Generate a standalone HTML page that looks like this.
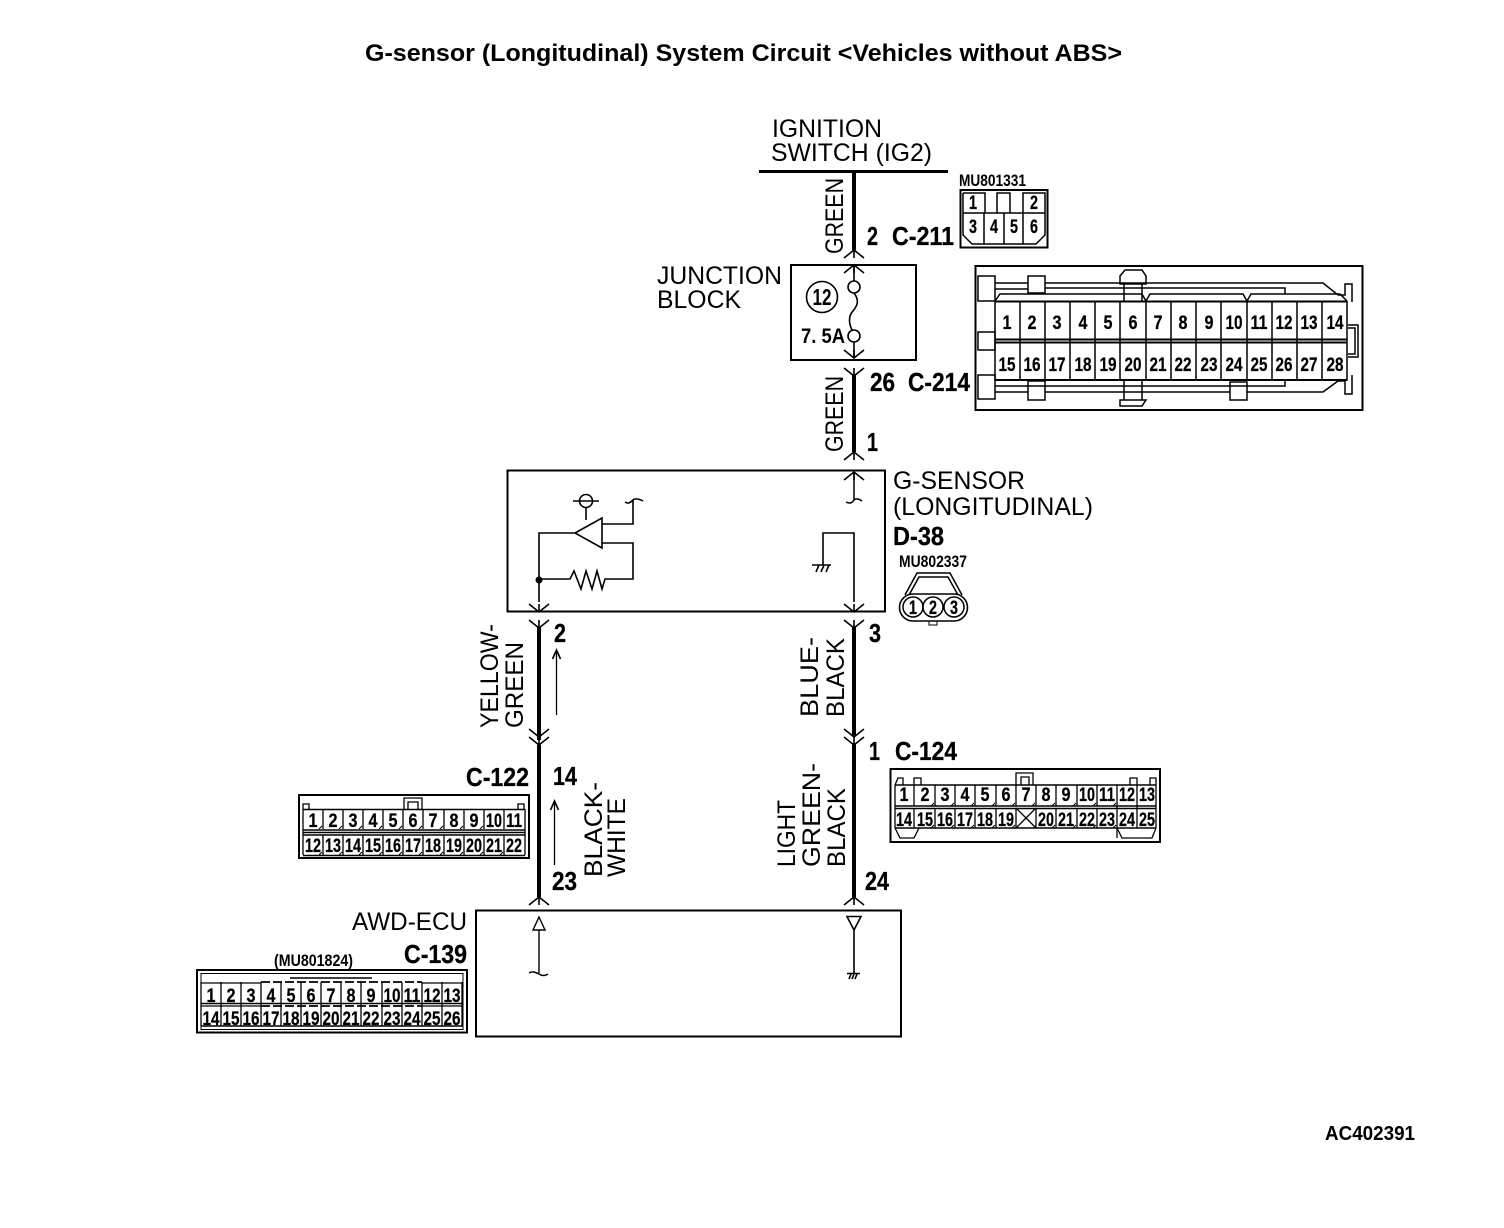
<!DOCTYPE html>
<html><head><meta charset="utf-8"><style>
html,body{margin:0;padding:0;background:#fff;width:1504px;height:1228px;overflow:hidden}
svg{display:block}
text{font-family:"Liberation Sans",sans-serif;fill:#000}
.r{font-size:25px}
.b{font-weight:bold;font-size:26px;stroke:#000;stroke-width:.3}
.mu{font-weight:bold;font-size:17px}
.m text{font-weight:bold;font-size:19px;text-anchor:middle;stroke:#000;stroke-width:.25}
</style></head><body>
<svg width="1504" height="1228" viewBox="0 0 1504 1228" xmlns="http://www.w3.org/2000/svg">
<defs>
<path id="u" d="M-10 8L0 0L10 8M0 0V8" fill="none" stroke="#000" stroke-width="1.6"/>
<path id="d" d="M-10 -8L0 0L10 -8M0 0V-8" fill="none" stroke="#000" stroke-width="1.6"/>
</defs>
<text x="365" y="61" font-weight="bold" font-size="24" textLength="757" lengthAdjust="spacingAndGlyphs">G-sensor (Longitudinal) System Circuit &lt;Vehicles without ABS&gt;</text>

<!-- top -->
<text class="r" x="772" y="137" textLength="110" lengthAdjust="spacingAndGlyphs">IGNITION</text>
<text class="r" x="771" y="161" textLength="161" lengthAdjust="spacingAndGlyphs">SWITCH (IG2)</text>
<path d="M759 171.5H948" stroke="#000" stroke-width="3"/>
<path d="M854 172V250M854 375V452M539 627V740M539 745V897M854 627V735M854 743V897" stroke="#000" stroke-width="4" fill="none"/>
<text class="r" transform="translate(843,254) rotate(-90)" textLength="76" lengthAdjust="spacingAndGlyphs">GREEN</text>
<text class="r" transform="translate(843,452) rotate(-90)" textLength="76" lengthAdjust="spacingAndGlyphs">GREEN</text>
<use href="#u" x="854" y="250"/><use href="#u" x="854" y="265"/>
<use href="#d" x="854" y="358"/><use href="#d" x="854" y="376"/>
<use href="#u" x="854" y="452"/><use href="#u" x="854" y="472"/>
<text class="b" x="867" y="245" textLength="11" lengthAdjust="spacingAndGlyphs">2</text>
<text class="b" x="892" y="245" textLength="62" lengthAdjust="spacingAndGlyphs">C-211</text>
<text class="b" x="870" y="391" textLength="25" lengthAdjust="spacingAndGlyphs">26</text>
<text class="b" x="908" y="391" textLength="62" lengthAdjust="spacingAndGlyphs">C-214</text>
<text class="b" x="867" y="451" textLength="11" lengthAdjust="spacingAndGlyphs">1</text>

<!-- junction block -->
<text class="r" x="657" y="284" textLength="125" lengthAdjust="spacingAndGlyphs">JUNCTION</text>
<text class="r" x="657" y="308" textLength="84" lengthAdjust="spacingAndGlyphs">BLOCK</text>
<rect x="791" y="265" width="125" height="95" fill="none" stroke="#000" stroke-width="2"/>
<circle cx="822" cy="297" r="15.5" fill="none" stroke="#000" stroke-width="1.6"/>
<text x="822" y="305" text-anchor="middle" font-weight="bold" font-size="23" textLength="19" lengthAdjust="spacingAndGlyphs">12</text>
<text x="801" y="343" font-weight="bold" font-size="21" textLength="44" lengthAdjust="spacingAndGlyphs">7. 5A</text>
<path d="M854 266V281M854 342V358" stroke="#000" stroke-width="1.6"/>
<circle cx="854" cy="287" r="6" fill="#fff" stroke="#000" stroke-width="1.6"/>
<circle cx="854" cy="336" r="6" fill="#fff" stroke="#000" stroke-width="1.6"/>
<path d="M854 293C860 301 857 306 853 311C848 316 849 324 852 330" fill="none" stroke="#000" stroke-width="1.6"/>

<!-- MU801331 -->
<text class="mu" x="959" y="186" textLength="67" lengthAdjust="spacingAndGlyphs">MU801331</text>
<rect x="960.5" y="190" width="87" height="57.5" fill="none" stroke="#000" stroke-width="2"/>
<path d="M963 213H1045M963 193H985V213M963 193V235L972 244H1036L1045 235V213M1023 213V193H1045V213M997 213V193H1010V213M984 213V244M1004 213V244M1023 213V244" fill="none" stroke="#000" stroke-width="1.5"/>
<g class="m">
<text x="973" y="209" textLength="8" lengthAdjust="spacingAndGlyphs">1</text><text x="1034" y="209" textLength="8" lengthAdjust="spacingAndGlyphs">2</text>
<text x="973" y="233" textLength="8" lengthAdjust="spacingAndGlyphs">3</text><text x="994" y="233" textLength="8" lengthAdjust="spacingAndGlyphs">4</text><text x="1014" y="233" textLength="8" lengthAdjust="spacingAndGlyphs">5</text><text x="1034" y="233" textLength="8" lengthAdjust="spacingAndGlyphs">6</text>
</g>

<!-- 28-pin -->
<rect x="975.5" y="266" width="387" height="144" fill="none" stroke="#000" stroke-width="2"/>
<path d="M978 276H995V301H978ZM978 332H995V350H978ZM978 375H995V399H978ZM1028 276H1045V293H1028ZM1028 381H1045V400H1028ZM1230 382H1247V400H1230Z" fill="#fff" stroke="#000" stroke-width="1.5"/>
<path d="M1124 284V302M1142 284V302M1124 380V400M1142 380V400M1120 276L1125 270H1142L1146 276V284H1120ZM1120 400V406H1142L1146 400Z" fill="none" stroke="#000" stroke-width="1.5"/>
<path d="M995 283H1028M1045 283H1323L1338 295M995 289H1028M1045 288H1285V294M1338 295H1345V284H1352V302M995 301L1000 294H1142L1146 301L1150 294H1243L1247 301L1251 294H1340L1347 301" fill="none" stroke="#000" stroke-width="1.5"/>
<path d="M995 386H1285V380M995 392H1028M1045 392H1230M1247 392H1323L1338 381H1345V394H1352V375M1348 325H1358V357H1348M1348 328H1355V354H1348" fill="none" stroke="#000" stroke-width="1.5"/>
<path d="M995 301.5H1347.5M995 339.5H1347.5M995 342.5H1347.5M995 380H1347.5" stroke="#000" stroke-width="2" fill="none"/>
<path d="M995 301V380M1020 301V380M1045 301V380M1070 301V380M1095 301V380M1120 301V380M1146 301V380M1171 301V380M1196 301V380M1221 301V380M1247 301V380M1272 301V380M1297 301V380M1322 301V380M1347 301V380" stroke="#000" stroke-width="1.5"/>
<g class="m">
<text x="1007" y="329" textLength="9" lengthAdjust="spacingAndGlyphs">1</text><text x="1032" y="329" textLength="9" lengthAdjust="spacingAndGlyphs">2</text><text x="1057" y="329" textLength="9" lengthAdjust="spacingAndGlyphs">3</text><text x="1083" y="329" textLength="9" lengthAdjust="spacingAndGlyphs">4</text><text x="1108" y="329" textLength="9" lengthAdjust="spacingAndGlyphs">5</text><text x="1133" y="329" textLength="9" lengthAdjust="spacingAndGlyphs">6</text><text x="1158" y="329" textLength="9" lengthAdjust="spacingAndGlyphs">7</text><text x="1183" y="329" textLength="9" lengthAdjust="spacingAndGlyphs">8</text><text x="1209" y="329" textLength="9" lengthAdjust="spacingAndGlyphs">9</text>
<text x="1234" y="329" textLength="17" lengthAdjust="spacingAndGlyphs">10</text><text x="1259" y="329" textLength="17" lengthAdjust="spacingAndGlyphs">11</text><text x="1284" y="329" textLength="17" lengthAdjust="spacingAndGlyphs">12</text><text x="1309" y="329" textLength="17" lengthAdjust="spacingAndGlyphs">13</text><text x="1335" y="329" textLength="17" lengthAdjust="spacingAndGlyphs">14</text>
<text x="1007" y="371" textLength="17" lengthAdjust="spacingAndGlyphs">15</text><text x="1032" y="371" textLength="17" lengthAdjust="spacingAndGlyphs">16</text><text x="1057" y="371" textLength="17" lengthAdjust="spacingAndGlyphs">17</text><text x="1083" y="371" textLength="17" lengthAdjust="spacingAndGlyphs">18</text><text x="1108" y="371" textLength="17" lengthAdjust="spacingAndGlyphs">19</text><text x="1133" y="371" textLength="17" lengthAdjust="spacingAndGlyphs">20</text><text x="1158" y="371" textLength="17" lengthAdjust="spacingAndGlyphs">21</text><text x="1183" y="371" textLength="17" lengthAdjust="spacingAndGlyphs">22</text><text x="1209" y="371" textLength="17" lengthAdjust="spacingAndGlyphs">23</text><text x="1234" y="371" textLength="17" lengthAdjust="spacingAndGlyphs">24</text><text x="1259" y="371" textLength="17" lengthAdjust="spacingAndGlyphs">25</text><text x="1284" y="371" textLength="17" lengthAdjust="spacingAndGlyphs">26</text><text x="1309" y="371" textLength="17" lengthAdjust="spacingAndGlyphs">27</text><text x="1335" y="371" textLength="17" lengthAdjust="spacingAndGlyphs">28</text>
</g>

<!-- G sensor -->
<rect x="507.5" y="470.5" width="377.5" height="141" fill="none" stroke="#000" stroke-width="2"/>
<path d="M854 472V500M846 502C850 504 852 503 854 500C856 498 859 499 862 501" fill="none" stroke="#000" stroke-width="1.5"/>
<path d="M539 602V533H575M575 533L602 518V548ZM602 524H633V500M625 502C628 504 630 503 633 500C635 498 639 499 643 501M602 543H633V579H605L602 589L597 571L592 589L586 571L581 589L574 571L570 579H539M586 503V520" fill="none" stroke="#000" stroke-width="1.6"/>
<circle cx="586" cy="501" r="6.5" fill="#fff" stroke="#000" stroke-width="1.6"/>
<path d="M573 501H599" stroke="#000" stroke-width="1.6"/>
<circle cx="539" cy="580" r="3.5" fill="#000"/>
<path d="M854 602V533H823V565M812 565H831M816 572L819 565M821 572L824 565M826 572L829 565" fill="none" stroke="#000" stroke-width="1.6"/>
<use href="#d" x="539" y="612"/><use href="#d" x="854" y="612"/>
<use href="#d" x="539" y="628"/><use href="#d" x="854" y="628"/>
<text class="r" x="893" y="489" textLength="132" lengthAdjust="spacingAndGlyphs">G-SENSOR</text>
<text class="r" x="893" y="515" textLength="200" lengthAdjust="spacingAndGlyphs">(LONGITUDINAL)</text>
<text class="b" x="893" y="545" textLength="51" lengthAdjust="spacingAndGlyphs">D-38</text>
<text class="mu" x="899" y="567" textLength="68" lengthAdjust="spacingAndGlyphs">MU802337</text>
<path d="M905 595L917 573H950L962 595M909 595L919 577H948L958 595" fill="none" stroke="#000" stroke-width="1.5"/>
<rect x="899.5" y="594" width="68" height="27" rx="13.5" fill="#fff" stroke="#000" stroke-width="1.6"/>
<rect x="929" y="621" width="8" height="4" fill="none" stroke="#000" stroke-width="1"/>
<circle cx="913" cy="607" r="10" fill="none" stroke="#000" stroke-width="1.5"/><circle cx="933" cy="607" r="10" fill="none" stroke="#000" stroke-width="1.5"/><circle cx="954" cy="607" r="10" fill="none" stroke="#000" stroke-width="1.5"/>
<g class="m"><text x="913" y="614" textLength="8" lengthAdjust="spacingAndGlyphs">1</text><text x="933" y="614" textLength="8" lengthAdjust="spacingAndGlyphs">2</text><text x="954" y="614" textLength="8" lengthAdjust="spacingAndGlyphs">3</text></g>

<!-- mid wires -->
<text class="b" x="554" y="642" textLength="12" lengthAdjust="spacingAndGlyphs">2</text>
<text class="b" x="869" y="642" textLength="12" lengthAdjust="spacingAndGlyphs">3</text>
<text class="r" transform="translate(498,728) rotate(-90)" textLength="104" lengthAdjust="spacingAndGlyphs">YELLOW-</text>
<text class="r" transform="translate(523,728) rotate(-90)" textLength="86" lengthAdjust="spacingAndGlyphs">GREEN</text>
<text class="r" transform="translate(818,717) rotate(-90)" textLength="80" lengthAdjust="spacingAndGlyphs">BLUE-</text>
<text class="r" transform="translate(844,717) rotate(-90)" textLength="79" lengthAdjust="spacingAndGlyphs">BLACK</text>
<path d="M556.5 715V652" stroke="#000" stroke-width="1.3"/><path d="M552.5 659L556.5 650L560.5 659" fill="none" stroke="#000" stroke-width="1.6"/>
<use href="#d" x="539" y="737"/><use href="#d" x="539" y="745"/><use href="#d" x="854" y="737"/><use href="#d" x="854" y="745"/>
<text class="b" x="869" y="760" textLength="11" lengthAdjust="spacingAndGlyphs">1</text>
<text class="b" x="895" y="760" textLength="62" lengthAdjust="spacingAndGlyphs">C-124</text>

<!-- C-122 -->
<text class="b" x="466" y="786" textLength="63" lengthAdjust="spacingAndGlyphs">C-122</text>
<text class="b" x="553" y="785" textLength="24" lengthAdjust="spacingAndGlyphs">14</text>
<text class="b" x="552" y="890" textLength="25" lengthAdjust="spacingAndGlyphs">23</text>
<text class="r" transform="translate(602,877) rotate(-90)" textLength="95" lengthAdjust="spacingAndGlyphs">BLACK-</text>
<text class="r" transform="translate(625,877) rotate(-90)" textLength="79" lengthAdjust="spacingAndGlyphs">WHITE</text>
<path d="M554.5 865V803" stroke="#000" stroke-width="1.3"/><path d="M550.5 810L554.5 801L558.5 810" fill="none" stroke="#000" stroke-width="1.6"/>
<rect x="299" y="795" width="230" height="63" fill="none" stroke="#000" stroke-width="2"/>
<path d="M303 809.5H525M303 830H525M303 832.5H525M303 835H525M303 855.5H525" stroke="#000" stroke-width="1.6"/>
<path d="M303 809V855M323 809V829M343 809V829M363 809V829M383 809V829M403 809V829M423 809V829M444 809V829M464 809V829M484 809V829M504 809V829M525 809V855M323 835V855M343 835V855M363 835V855M383 835V855M403 835V855M423 835V855M444 835V855M464 835V855M484 835V855M504 835V855" stroke="#000" stroke-width="1.3"/>
<path d="M404 809V798H422V809M408 809V802H418V809M303 809V804H309V809M518 809V804H524V809" fill="none" stroke="#000" stroke-width="1.3"/>
<path d="M319 829l3 -3M339 829l3 -3M359 829l3 -3M379 829l3 -3M399 829l3 -3M419 829l3 -3M440 829l3 -3M460 829l3 -3M480 829l3 -3M319 855l3 -3M339 855l3 -3M359 855l3 -3M379 855l3 -3M399 855l3 -3M419 855l3 -3M440 855l3 -3M460 855l3 -3M480 855l3 -3M500 855l3 -3" stroke="#000" stroke-width="1"/>
<g class="m">
<text x="313" y="827" textLength="9" lengthAdjust="spacingAndGlyphs">1</text><text x="333" y="827" textLength="9" lengthAdjust="spacingAndGlyphs">2</text><text x="353" y="827" textLength="9" lengthAdjust="spacingAndGlyphs">3</text><text x="373" y="827" textLength="9" lengthAdjust="spacingAndGlyphs">4</text><text x="393" y="827" textLength="9" lengthAdjust="spacingAndGlyphs">5</text><text x="413" y="827" textLength="9" lengthAdjust="spacingAndGlyphs">6</text><text x="433" y="827" textLength="9" lengthAdjust="spacingAndGlyphs">7</text><text x="454" y="827" textLength="9" lengthAdjust="spacingAndGlyphs">8</text><text x="474" y="827" textLength="9" lengthAdjust="spacingAndGlyphs">9</text><text x="494" y="827" textLength="16" lengthAdjust="spacingAndGlyphs">10</text><text x="514" y="827" textLength="16" lengthAdjust="spacingAndGlyphs">11</text>
<text x="313" y="852" textLength="16" lengthAdjust="spacingAndGlyphs">12</text><text x="333" y="852" textLength="16" lengthAdjust="spacingAndGlyphs">13</text><text x="353" y="852" textLength="16" lengthAdjust="spacingAndGlyphs">14</text><text x="373" y="852" textLength="16" lengthAdjust="spacingAndGlyphs">15</text><text x="393" y="852" textLength="16" lengthAdjust="spacingAndGlyphs">16</text><text x="413" y="852" textLength="16" lengthAdjust="spacingAndGlyphs">17</text><text x="433" y="852" textLength="16" lengthAdjust="spacingAndGlyphs">18</text><text x="454" y="852" textLength="16" lengthAdjust="spacingAndGlyphs">19</text><text x="474" y="852" textLength="16" lengthAdjust="spacingAndGlyphs">20</text><text x="494" y="852" textLength="16" lengthAdjust="spacingAndGlyphs">21</text><text x="514" y="852" textLength="16" lengthAdjust="spacingAndGlyphs">22</text>
</g>

<!-- C-124 -->
<text class="r" transform="translate(795,867) rotate(-90)" textLength="67" lengthAdjust="spacingAndGlyphs">LIGHT</text>
<text class="r" transform="translate(820,867) rotate(-90)" textLength="104" lengthAdjust="spacingAndGlyphs">GREEN-</text>
<text class="r" transform="translate(845,867) rotate(-90)" textLength="79" lengthAdjust="spacingAndGlyphs">BLACK</text>
<text class="b" x="865" y="890" textLength="24" lengthAdjust="spacingAndGlyphs">24</text>
<rect x="890.5" y="769" width="269.5" height="73" fill="none" stroke="#000" stroke-width="2"/>
<path d="M895 785H1156M895 806H1156M895 808.5H1156M895 828H1156" stroke="#000" stroke-width="1.6"/>
<path d="M895 785V828M914 785V806M935 785V806M955 785V806M975 785V806M996 785V806M1016 785V806M1036 785V806M1056 785V806M1077 785V806M1097 785V806M1117 785V838M1137 785V828M1156 785V828M914 808V828M935 808V828M955 808V828M975 808V828M996 808V828M1016 808V828M1036 808V828M1056 808V828M1077 808V828M1097 808V828M1016 808L1036 828M1036 808L1016 828" stroke="#000" stroke-width="1.3"/>
<path d="M1016 785V773H1033V785M1021 785V777H1029V785M914 785V778H921V785M1130 785V778H1137V785M1150 785V778H1156V785M895 828L900 838H914L919 828M1117 828L1122 838H1152L1156 828M895 785L898 778H903V785" fill="none" stroke="#000" stroke-width="1.3"/>
<path d="M931 806l3 -3M951 806l3 -3M971 806l3 -3M992 806l3 -3M1012 806l3 -3M1032 806l3 -3M1052 806l3 -3M1073 806l3 -3M1093 806l3 -3M1113 806l3 -3M931 828l3 -3M951 828l3 -3M971 828l3 -3M992 828l3 -3M1012 828l3 -3M1052 828l3 -3M1073 828l3 -3M1093 828l3 -3M1113 828l3 -3" stroke="#000" stroke-width="1"/>
<g class="m">
<text x="904" y="801" textLength="9" lengthAdjust="spacingAndGlyphs">1</text><text x="925" y="801" textLength="9" lengthAdjust="spacingAndGlyphs">2</text><text x="945" y="801" textLength="9" lengthAdjust="spacingAndGlyphs">3</text><text x="965" y="801" textLength="9" lengthAdjust="spacingAndGlyphs">4</text><text x="985" y="801" textLength="9" lengthAdjust="spacingAndGlyphs">5</text><text x="1006" y="801" textLength="9" lengthAdjust="spacingAndGlyphs">6</text><text x="1026" y="801" textLength="9" lengthAdjust="spacingAndGlyphs">7</text><text x="1046" y="801" textLength="9" lengthAdjust="spacingAndGlyphs">8</text><text x="1066" y="801" textLength="9" lengthAdjust="spacingAndGlyphs">9</text><text x="1087" y="801" textLength="16" lengthAdjust="spacingAndGlyphs">10</text><text x="1107" y="801" textLength="16" lengthAdjust="spacingAndGlyphs">11</text><text x="1127" y="801" textLength="16" lengthAdjust="spacingAndGlyphs">12</text><text x="1147" y="801" textLength="16" lengthAdjust="spacingAndGlyphs">13</text>
<text x="904" y="826" textLength="16" lengthAdjust="spacingAndGlyphs">14</text><text x="925" y="826" textLength="16" lengthAdjust="spacingAndGlyphs">15</text><text x="945" y="826" textLength="16" lengthAdjust="spacingAndGlyphs">16</text><text x="965" y="826" textLength="16" lengthAdjust="spacingAndGlyphs">17</text><text x="985" y="826" textLength="16" lengthAdjust="spacingAndGlyphs">18</text><text x="1006" y="826" textLength="16" lengthAdjust="spacingAndGlyphs">19</text><text x="1046" y="826" textLength="16" lengthAdjust="spacingAndGlyphs">20</text><text x="1066" y="826" textLength="16" lengthAdjust="spacingAndGlyphs">21</text><text x="1087" y="826" textLength="16" lengthAdjust="spacingAndGlyphs">22</text><text x="1107" y="826" textLength="16" lengthAdjust="spacingAndGlyphs">23</text><text x="1127" y="826" textLength="16" lengthAdjust="spacingAndGlyphs">24</text><text x="1147" y="826" textLength="16" lengthAdjust="spacingAndGlyphs">25</text>
</g>

<!-- ECU -->
<use href="#u" x="539" y="897"/><use href="#u" x="854" y="897"/>
<rect x="476" y="910.5" width="425" height="126" fill="none" stroke="#000" stroke-width="2"/>
<path d="M539 930V973M533 930H545L539 917ZM529 973C532 971 535 972 539 974C542 976 545 976 548 974" fill="none" stroke="#000" stroke-width="1.4"/>
<path d="M854 930V973M847 916.5H861L854 930ZM847 973.5H860M849 979L851 974M852 979L854 974M855 979L857 974" fill="none" stroke="#000" stroke-width="1.6"/>
<text class="r" x="352" y="930" textLength="115" lengthAdjust="spacingAndGlyphs">AWD-ECU</text>
<text class="b" x="404" y="963" textLength="63" lengthAdjust="spacingAndGlyphs">C-139</text>
<text class="mu" x="274" y="966" textLength="79" lengthAdjust="spacingAndGlyphs">(MU801824)</text>
<rect x="197" y="970" width="270" height="62.5" fill="none" stroke="#000" stroke-width="2"/>
<path d="M201 1029.5H463V973.5H201Z" fill="none" stroke="#000" stroke-width="1"/>
<path d="M201 1003.5H463M201 1026H463M290 978H372" stroke="#000" stroke-width="1.5"/>
<path d="M201 983H261M422 983H463M201 1006H261M422 1006H463" stroke="#000" stroke-width="1.3"/>
<path d="M261 982H422M261 1006H422" stroke="#000" stroke-width="1.8" stroke-dasharray="9 3"/>
<path d="M201 982V1026M221 982V1026M241 982V1026M261 982V1026M281 982V1026M301 982V1026M321 982V1026M341 982V1026M361 982V1026M382 982V1026M402 982V1026M422 982V1026M442 982V1026M462 982V1026" stroke="#000" stroke-width="1.3"/>
<g class="m">
<text x="211" y="1002" textLength="9" lengthAdjust="spacingAndGlyphs">1</text><text x="231" y="1002" textLength="9" lengthAdjust="spacingAndGlyphs">2</text><text x="251" y="1002" textLength="9" lengthAdjust="spacingAndGlyphs">3</text><text x="271" y="1002" textLength="9" lengthAdjust="spacingAndGlyphs">4</text><text x="291" y="1002" textLength="9" lengthAdjust="spacingAndGlyphs">5</text><text x="311" y="1002" textLength="9" lengthAdjust="spacingAndGlyphs">6</text><text x="331" y="1002" textLength="9" lengthAdjust="spacingAndGlyphs">7</text><text x="351" y="1002" textLength="9" lengthAdjust="spacingAndGlyphs">8</text><text x="371" y="1002" textLength="9" lengthAdjust="spacingAndGlyphs">9</text><text x="392" y="1002" textLength="17" lengthAdjust="spacingAndGlyphs">10</text><text x="412" y="1002" textLength="17" lengthAdjust="spacingAndGlyphs">11</text><text x="432" y="1002" textLength="17" lengthAdjust="spacingAndGlyphs">12</text><text x="452" y="1002" textLength="17" lengthAdjust="spacingAndGlyphs">13</text>
<text x="211" y="1025" textLength="17" lengthAdjust="spacingAndGlyphs">14</text><text x="231" y="1025" textLength="17" lengthAdjust="spacingAndGlyphs">15</text><text x="251" y="1025" textLength="17" lengthAdjust="spacingAndGlyphs">16</text><text x="271" y="1025" textLength="17" lengthAdjust="spacingAndGlyphs">17</text><text x="291" y="1025" textLength="17" lengthAdjust="spacingAndGlyphs">18</text><text x="311" y="1025" textLength="17" lengthAdjust="spacingAndGlyphs">19</text><text x="331" y="1025" textLength="17" lengthAdjust="spacingAndGlyphs">20</text><text x="351" y="1025" textLength="17" lengthAdjust="spacingAndGlyphs">21</text><text x="371" y="1025" textLength="17" lengthAdjust="spacingAndGlyphs">22</text><text x="392" y="1025" textLength="17" lengthAdjust="spacingAndGlyphs">23</text><text x="412" y="1025" textLength="17" lengthAdjust="spacingAndGlyphs">24</text><text x="432" y="1025" textLength="17" lengthAdjust="spacingAndGlyphs">25</text><text x="452" y="1025" textLength="17" lengthAdjust="spacingAndGlyphs">26</text>
</g>

<text x="1325" y="1140" font-weight="bold" font-size="20" textLength="90" lengthAdjust="spacingAndGlyphs">AC402391</text>
</svg>
</body></html>
